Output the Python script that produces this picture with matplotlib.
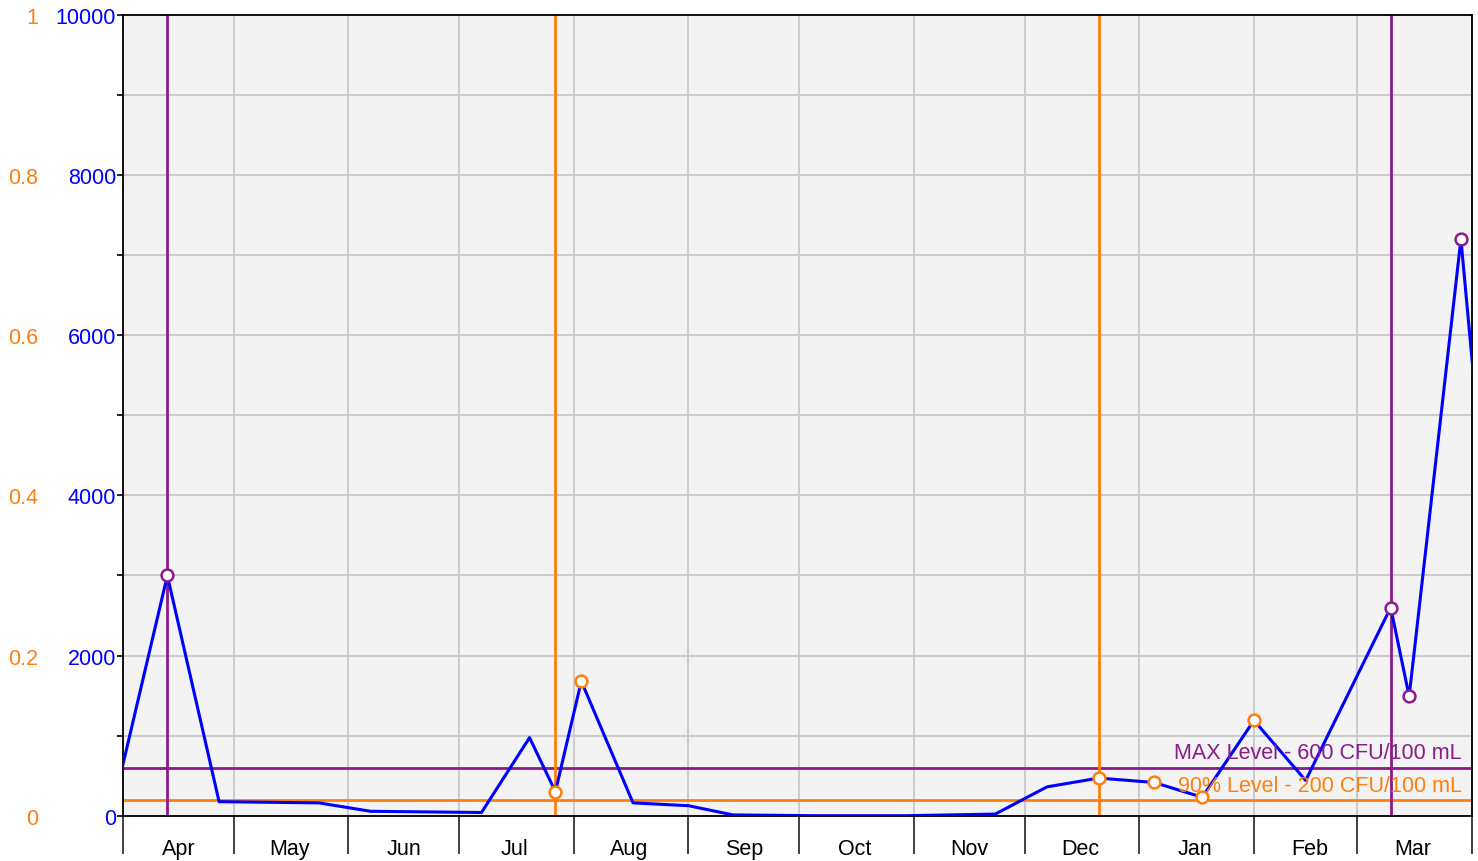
import matplotlib
matplotlib.use("Agg")
import matplotlib.pyplot as plt
import matplotlib.dates as mdates
from matplotlib.ticker import MultipleLocator, FixedLocator
import pandas as pd

plt.rcParams['font.family'] = ['Liberation Sans', 'DejaVu Sans']

# ---- data ----
sample_dates = ['2021-03-30', '2021-04-13', '2021-04-27', '2021-05-24', '2021-06-07',
                '2021-07-07', '2021-07-20', '2021-07-27', '2021-08-03', '2021-08-17',
                '2021-09-01', '2021-09-13', '2021-10-05', '2021-10-30', '2021-11-23',
                '2021-12-07', '2021-12-21', '2022-01-05', '2022-01-18', '2022-02-01',
                '2022-02-15', '2022-03-10', '2022-03-15', '2022-03-29', '2022-04-05']
sample_values = [250, 3000, 175, 160, 55,
                 40, 975, 300, 1680, 160,
                 125, 10, 0, 0, 20,
                 360, 470, 415, 230, 1190,
                 440, 2600, 1490, 7200, 3700]

purple_points = ['2021-04-13', '2022-03-10', '2022-03-15', '2022-03-29']
orange_points = ['2021-07-27', '2021-08-03', '2021-12-21', '2022-01-05',
                 '2022-01-18', '2022-02-01']
purple_vlines = ['2021-04-13', '2022-03-10']
orange_vlines = ['2021-07-27', '2021-12-21']

max_level = 600
p90_level = 200
max_label = 'MAX Level - 600 CFU/100 mL'
p90_label = '90% Level - 200 CFU/100 mL'

left_ticks = [0, 2000, 4000, 6000, 8000, 10000]
orange_ticks = [0, 0.2, 0.4, 0.6, 0.8, 1]
orange_tick_labels = ['0', '0.2', '0.4', '0.6', '0.8', '1']

x_start, x_end = '2021-04-01', '2022-04-01'

# ---- styles ----
BLUE = '#0000ff'
PURPLE = '#8b1a8b'
ORANGE = '#ff7f0e'
GRID = '#c8c8c8'

series = pd.Series(sample_values, index=pd.to_datetime(sample_dates))

fig = plt.figure(figsize=(14.78, 8.62), dpi=100)
ax = fig.add_axes([123/1478, 1 - 816.7/862, (1472-123)/1478, (816.7-16)/862])
ax.set_facecolor('#f3f3f3')

ax.set_xlim(pd.Timestamp(x_start), pd.Timestamp(x_end))
ax.set_ylim(0, 10000)

# grid
ax.xaxis.set_major_locator(mdates.MonthLocator())
ax.xaxis.set_minor_locator(mdates.MonthLocator(bymonthday=16))
ax.xaxis.set_major_formatter(plt.NullFormatter())
ax.xaxis.set_minor_formatter(mdates.DateFormatter('%b'))
ax.yaxis.set_major_locator(FixedLocator(left_ticks))
ax.yaxis.set_minor_locator(MultipleLocator(1000))
ax.grid(which='major', axis='x', color=GRID, lw=1.3, zorder=0)
ax.grid(which='both', axis='y', color=GRID, lw=1.3, zorder=0)
ax.set_axisbelow(True)

ax.tick_params(axis='x', which='major', length=27, width=1.3, color='#333333')
ax.tick_params(axis='x', which='minor', length=0, pad=16, labelsize=15.5, labelcolor='black')
ax.tick_params(axis='y', which='both', length=4, width=1.2, pad=1, labelsize=15.5, labelcolor=BLUE)

for s in ax.spines.values():
    s.set_linewidth(1.3)
    s.set_color('black')

# level lines
ax.axhline(max_level, color=PURPLE, lw=2, zorder=2)
ax.axhline(p90_level, color=ORANGE, lw=2, zorder=2)
for d in purple_vlines:
    ax.axvline(pd.Timestamp(d), color=PURPLE, lw=2, zorder=2)
for d in orange_vlines:
    ax.axvline(pd.Timestamp(d), color=ORANGE, lw=2, zorder=2)

# main series
ax.plot(series.index, series.values, color=BLUE, lw=2.2, zorder=3)

pp = series[pd.to_datetime(purple_points)]
op = series[pd.to_datetime(orange_points)]
ax.plot(pp.index, pp.values, 'o', ms=8.5, mfc='white', mec=PURPLE, mew=1.8, zorder=4, clip_on=False)
ax.plot(op.index, op.values, 'o', ms=8.5, mfc='white', mec=ORANGE, mew=1.8, zorder=4, clip_on=False)

# level labels
ax.annotate(max_label, xy=(0.9926, max_level), xycoords=('axes fraction', 'data'),
            xytext=(0, 7), textcoords='offset points', ha='right', va='baseline',
            color=PURPLE, fontsize=15.5, zorder=5)
ax.annotate(p90_label, xy=(0.9926, p90_level), xycoords=('axes fraction', 'data'),
            xytext=(0, 6.5), textcoords='offset points', ha='right', va='baseline',
            color=ORANGE, fontsize=15.5, zorder=5)

# secondary (orange) axis on the far left
ax2 = ax.twinx()
ax2.set_ylim(0, 1)
ax2.yaxis.tick_left()
ax2.set_yticks(orange_ticks)
ax2.set_yticklabels(orange_tick_labels)
ax2.tick_params(axis='y', length=0, pad=61, labelsize=15.5, labelcolor=ORANGE)
for s in ax2.spines.values():
    s.set_visible(False)

fig.savefig('out.png', dpi=100)
